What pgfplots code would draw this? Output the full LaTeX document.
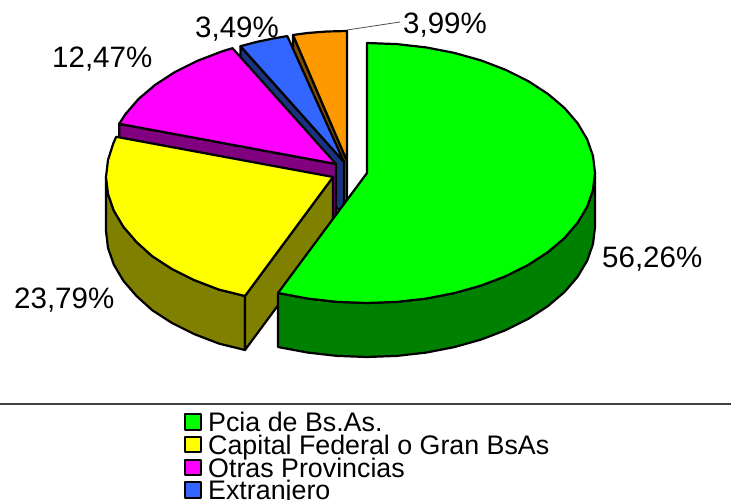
\documentclass[border=0pt]{standalone}
\usepackage{pgfplots}
\pgfplotsset{compat=1.18}
\usepackage{fontspec}
\setmainfont{Liberation Sans}
\definecolor{cGreen}{HTML}{00FF00}\definecolor{dGreen}{HTML}{008000}
\definecolor{cYellow}{HTML}{FFFF00}\definecolor{dYellow}{HTML}{808000}
\definecolor{cMag}{HTML}{FF00FF}\definecolor{dMag}{HTML}{800080}
\definecolor{cBlue}{HTML}{3366FF}\definecolor{dBlue}{HTML}{1A3380}
\definecolor{cOrange}{HTML}{FF9900}\definecolor{dOrange}{HTML}{804D00}
\newcommand{\lab}{\fontsize{29.5}{30}\selectfont}
\newcommand{\leg}{\fontsize{26.8}{27}\selectfont}
\begin{document}
\begin{tikzpicture}
\useasboundingbox (0,0) rectangle (731pt,500pt);
\clip (0,0) rectangle (731pt,500pt);
\begin{axis}[
  scale only axis, width=731pt, height=500pt,
  xmin=0, xmax=731, ymin=0, ymax=500, y dir=reverse,
  axis lines=none, clip=false, no markers,
  every axis plot/.append style={draw=black, line width=2.2pt, line join=round},
]
% leader line and rule
\addplot[draw=black!70, line width=0.8pt] coordinates {(347,30) (400,22)};
\addplot[draw=black!75, line width=1.1pt] coordinates {(0,404) (731,404)};
% orange
\addplot[fill=dOrange] coordinates {(293,35) (347,161) (347,215) (293,89)} --cycle;
\addplot[fill=cOrange] coordinates {(347,161) (293,35) (307.4,33) (327.1,31.5) (347,31)} --cycle;
% blue
\addplot[fill=dBlue] coordinates {(240.5,46.2) (344,162) (344,216) (240.5,100.2)} --cycle;
\addplot[fill=cBlue] coordinates {(344,162) (240.5,46.2) (256.7,41.9) (273.5,38.4) (287.3,36.1)} --cycle;
% magenta
\addplot[fill=dMag] coordinates {(119.2,123.8) (336,164) (336,218) (119.2,177.8)} --cycle;
\addplot[fill=cMag] coordinates {(336,164) (119.2,123.8) (125.4,114.2) (138.5,99) (155.1,84.9) (174.8,72.1) (197.2,60.9) (222,51.4) (232.5,48.2)} --cycle;
% yellow
\addplot[fill=dYellow] coordinates {(106,177) (108,194) (113.8,210.6) (123.4,226.8) (136.5,242) (152.1,256.1) (171.8,268.9) (194.2,280.1) (219,289.6) (245,296) (245,350) (219,343.6) (194.2,334.1) (171.8,322.9) (152.1,310.1) (136.5,296) (123.4,280.8) (113.8,264.6) (108,248) (106,231)} --cycle;
\addplot[fill=dYellow] coordinates {(333,177) (245,296) (245,350) (333,231)} --cycle;
\addplot[fill=cYellow] coordinates {(333,177) (245,296) (219,289.6) (194.2,280.1) (171.8,268.9) (152.1,256.1) (136.5,242) (123.4,226.8) (113.8,210.6) (108,194) (106,177) (108,160) (113.3,143.4) (116.2,136.8)} --cycle;
% green
\addplot[fill=dGreen] coordinates {(595,173) (593,190) (587.2,206.6) (577.6,222.8) (564.5,238) (547.9,252.1) (528.2,264.9) (505.8,276.1) (481,285.6) (454.3,293.1) (426,298.6) (396.8,301.9) (367,303) (337.2,301.9) (308,298.6) (278,293) (278,347) (308,352.6) (337.2,355.9) (367,357) (396.8,355.9) (426,352.6) (454.3,347.1) (481,339.6) (505.8,330.1) (528.2,318.9) (547.9,306.1) (564.5,292) (577.6,276.8) (587.2,260.6) (593,244) (595,227)} --cycle;
\addplot[fill=cGreen] coordinates {(367,173) (367,43) (396.8,44.1) (426,47.4) (454.3,52.9) (481,60.4) (505.8,69.9) (528.2,81.1) (547.9,93.9) (564.5,108) (577.6,123.2) (587.2,139.4) (593,156) (595,173) (593,190) (587.2,206.6) (577.6,222.8) (564.5,238) (547.9,252.1) (528.2,264.9) (505.8,276.1) (481,285.6) (454.3,293.1) (426,298.6) (396.8,301.9) (367,303) (337.2,301.9) (308,298.6) (278,293)} --cycle;
% legend swatches
\addplot[fill=cGreen] coordinates {(185,414) (201,414) (201,430) (185,430)} --cycle;
\addplot[fill=cYellow] coordinates {(185,437) (201,437) (201,452) (185,452)} --cycle;
\addplot[fill=cMag] coordinates {(185,460) (201,460) (201,475) (185,475)} --cycle;
\addplot[fill=cBlue] coordinates {(185,482) (201,482) (201,498) (185,498)} --cycle;
% labels
\node[anchor=base west, inner sep=0pt] at (axis cs:602,267) {\lab 56,26\%};
\node[anchor=base west, inner sep=0pt] at (axis cs:14,308) {\lab 23,79\%};
\node[anchor=base west, inner sep=0pt] at (axis cs:52,68) {\lab 12,47\%};
\node[anchor=base west, inner sep=0pt] at (axis cs:195,38) {\lab 3,49\%};
\node[anchor=base west, inner sep=0pt] at (axis cs:403,34) {\lab 3,99\%};
\node[anchor=base west, inner sep=0pt] at (axis cs:208,431) {\leg Pcia de Bs.As.};
\node[anchor=base west, inner sep=0pt] at (axis cs:208,454) {\leg Capital Federal o Gran BsAs};
\node[anchor=base west, inner sep=0pt] at (axis cs:208,477) {\leg Otras Provincias};
\node[anchor=base west, inner sep=0pt] at (axis cs:208,499) {\leg Extranjero};
\end{axis}
\end{tikzpicture}
\end{document}
